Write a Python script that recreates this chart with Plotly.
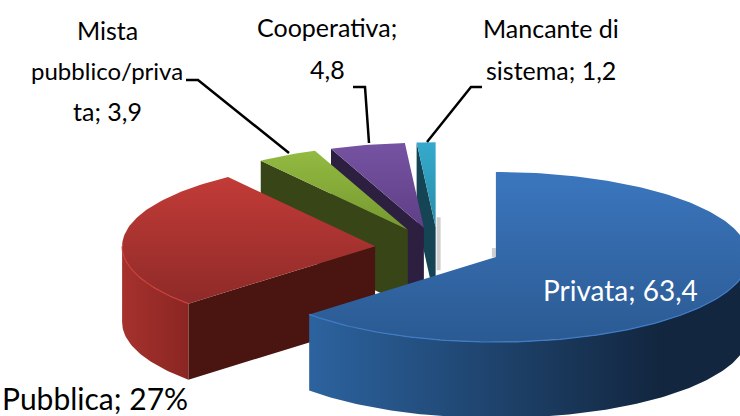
import math
import plotly.graph_objects as go

# ---- data ----
categories = ["Privata", "Pubblica", "Mista pubblico/privata", "Cooperativa", "Mancante di sistema"]
values = [63.4, 27, 3.9, 4.8, 1.2]

# ---- styles (top gradient start/end, wall colours) ----
top_colors = ["#3B76BE|#2B5A92", "#C23B37|#8E2A28", "#93BA42|#76992F", "#7653A2|#5F3F86", "#35AACD|#2A8CA8"]
arc_wall_colors = ["#2C639F|#12263F", "#A6312D|#8A2622", "#3A4718|#3A4718", "#2C1F40|#2C1F40", "#154454|#154454"]
radial_wall_colors = ["#1A3050", "#4A1410", "#384516", "#2C1F40", "#154454"]
rim_colors = ["#3F7CC8", "#C93E3A", None, None, None]

# ---- projection of the pie on the 740x416 page ----
CX, CY = 438, 248.5
RX, RY = 253, 85
DEPTH = 76
EXPLODE = 0.25

total = sum(values)
angles = []
acc = 0.0
for v in values:
    angles.append((acc, acc + v / total * 360))
    acc += v / total * 360


def pt(ax, ay, deg, drop=0):
    t = math.radians(deg)
    return ax + RX * math.sin(t), ay - RY * math.cos(t) + drop


def arc(ax, ay, a, b, drop=0, step=1.0):
    n = max(2, int(abs(b - a) / step) + 1)
    return [pt(ax, ay, a + (b - a) * i / (n - 1), drop) for i in range(n)]


def grad(spec, orient, start, stop):
    c0, c1 = spec.split("|")
    return dict(type=orient, colorscale=[[0, c0], [1, c1]], start=start, stop=stop)


def poly(pts, **kw):
    xs = [p[0] for p in pts] + [pts[0][0]]
    ys = [p[1] for p in pts] + [pts[0][1]]
    return go.Scatter(x=xs, y=ys, mode="lines", fill="toself", line=dict(width=0),
                      hoverinfo="skip", showlegend=False, **kw)


def apex(i):
    a, b = angles[i]
    mid = math.radians((a + b) / 2)
    return CX + EXPLODE * RX * math.sin(mid), CY - EXPLODE * RY * math.cos(mid)


fig = go.Figure()

# soft shadows beside the slices' inner corners
for i, dx, y0, y1 in [(4, 3, -10, 43), (0, -2, -9, 0)]:
    ax, ay = apex(i)
    fig.add_trace(go.Scatter(x=[ax + dx, ax + dx], y=[ay + y0, ay + y1], mode="lines",
                             line=dict(color="#CFCFCF", width=4),
                             hoverinfo="skip", showlegend=False))

# painter's order, back to front
for i in [4, 3, 2, 1, 0]:
    a, b = angles[i]
    ax, ay = apex(i)

    # radial walls that face the viewer
    if math.sin(math.radians(a)) < -1e-6:
        p = pt(ax, ay, a)
        q = pt(ax, ay, a, DEPTH)
        fig.add_trace(poly([(ax, ay), p, q, (ax, ay + DEPTH)], fillcolor=radial_wall_colors[i]))
    if math.sin(math.radians(b)) > 1e-6:
        p = pt(ax, ay, b)
        q = pt(ax, ay, b, DEPTH)
        fig.add_trace(poly([(ax, ay), p, q, (ax, ay + DEPTH)], fillcolor=radial_wall_colors[i]))

    # curved outer wall, front half only
    lo, hi = max(a, 90), min(b, 270)
    if hi > lo:
        upper = arc(ax, ay, lo, hi)
        lower = arc(ax, ay, hi, lo, DEPTH)
        xs = [u[0] for u in upper + lower]
        # gradient runs left (lit) to right (dark)
        c = arc_wall_colors[i]
        fig.add_trace(poly(upper + lower, fillgradient=grad(c, "horizontal", min(xs), min(max(xs), 660))
                           if i == 0 else grad(c, "horizontal", min(xs), max(xs))))

    # top face
    top = [(ax, ay)] + arc(ax, ay, a, b)
    ys = [u[1] for u in top]
    fig.add_trace(poly(top, fillgradient=grad(top_colors[i], "vertical", min(ys), max(ys))))

    # highlight on the front rim
    if rim_colors[i] and hi > lo:
        r = arc(ax, ay, lo, hi)
        fig.add_trace(go.Scatter(x=[u[0] for u in r], y=[u[1] for u in r], mode="lines",
                                 line=dict(color=rim_colors[i], width=1.2),
                                 hoverinfo="skip", showlegend=False))

# ---- leader lines ----
leaders = [
    ([186, 198, 289], [80, 80, 153]),
    ([353, 365, 369], [87, 87, 143]),
    ([482, 471, 427], [87, 87, 142]),
]
for lx, ly in leaders:
    fig.add_trace(go.Scatter(x=lx, y=ly, mode="lines", line=dict(color="black", width=2.5),
                             hoverinfo="skip", showlegend=False))

# ---- labels ----
FONT = "Lato, sans-serif"
labels = [
    ("Mista", 107, 30, 25, "black", FONT),
    ("pubblico/priva", 107, 70, 24, "black", FONT),
    ("ta; 3,9", 107, 111, 25, "black", FONT),
    ("Cooperativa;", 327, 27, 25, "black", FONT),
    ("4,8", 327, 69, 25, "black", FONT),
    ("Mancante di", 551, 28, 25, "black", FONT),
    ("sistema; 1,2", 551, 70, 25, "black", FONT),
    ("Privata; 63,4", 620, 290, 28, "white", FONT),
    ("Pubblica; 27%", 95, 398, 30, "black", FONT),
]
annotations = [dict(text=t, x=x, y=y, xref="x", yref="y", showarrow=False, xanchor="center", yanchor="middle",
                    font=dict(size=s, color=c, family=f)) for t, x, y, s, c, f in labels]

fig.update_layout(
    width=740, height=416, margin=dict(l=0, r=0, t=0, b=0),
    paper_bgcolor="white", plot_bgcolor="white", showlegend=False, hovermode=False,
    xaxis=dict(range=[0, 740], visible=False, fixedrange=True),
    yaxis=dict(range=[416, 0], visible=False, fixedrange=True),
    annotations=annotations,
)
fig.write_html("out.html", config=dict(displayModeBar=False),
               post_script="document.body.style.margin='0';document.body.style.overflow='hidden';")
